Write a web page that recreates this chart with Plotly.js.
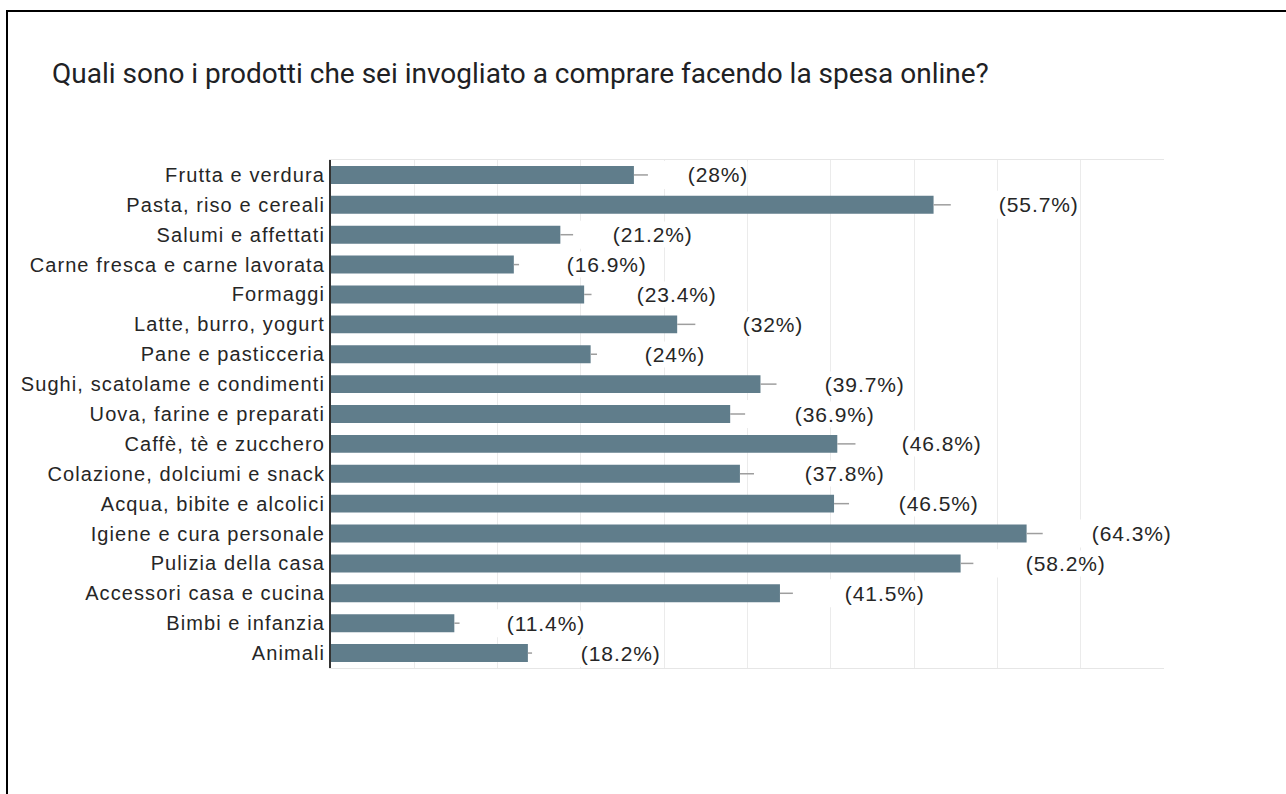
<!DOCTYPE html>
<html>
<head>
<meta charset="utf-8">
<script src="https://cdn.plot.ly/plotly-3.0.1.min.js"></script>
<style>
  html, body { margin: 0; padding: 0; background: #fff; }
  #wrap { position: relative; width: 1286px; height: 794px; overflow: hidden; }
  #chart { position: absolute; left: 0; top: 0; width: 1286px; height: 794px; }
  #frame { position: absolute; left: 6px; top: 10px; width: 1400px; height: 900px;
           border-top: 2px solid #000; border-left: 2px solid #000; pointer-events: none; }
  #chart .ytick text { letter-spacing: 1.1px; }
  #chart .annotation-text { letter-spacing: 0.9px; }
</style>
</head>
<body>
<div id="wrap">
  <div id="chart"></div>
  <div id="frame"></div>
</div>
<script>
const categories = [
  "Frutta e verdura",
  "Pasta, riso e cereali",
  "Salumi e affettati",
  "Carne fresca e carne lavorata",
  "Formaggi",
  "Latte, burro, yogurt",
  "Pane e pasticceria",
  "Sughi, scatolame e condimenti",
  "Uova, farine e preparati",
  "Caffè, tè e zucchero",
  "Colazione, dolciumi e snack",
  "Acqua, bibite e alcolici",
  "Igiene e cura personale",
  "Pulizia della casa",
  "Accessori casa e cucina",
  "Bimbi e infanzia",
  "Animali"
];
const percents = [28, 55.7, 21.2, 16.9, 23.4, 32, 24, 39.7, 36.9, 46.8, 37.8, 46.5, 64.3, 58.2, 41.5, 11.4, 18.2];
const errPlus  = [1.3, 1.6, 1.2, 0.5, 0.7, 1.7, 0.6, 1.5, 1.4, 1.7, 1.3, 1.4, 1.5, 1.2, 1.2, 0.5, 0.4];
const valueLabels = percents.map(p => "(" + p + "%)");

const W = 1286, H = 794;
const margin = {l: 331, r: 122, t: 160, b: 126, pad: 0};
const xMax = 77, xStep = 7.7;
const pxPerUnit = (W - margin.l - margin.r) / xMax;
const labelShiftPx = percents.map(p => p < 30 ? 54 : 66);

const trace = {
  type: "bar",
  orientation: "h",
  x: percents,
  y: categories,
  marker: {color: "#607d8b"},
  error_x: {type: "data", symmetric: false, array: errPlus, arrayminus: percents.map(() => 0),
            color: "#9e9e9e", thickness: 1.5, width: 0},
  hoverinfo: "none"
};

const annotations = percents.map((p, i) => ({
  x: p, y: categories[i], xref: "x", yref: "y",
  text: valueLabels[i], showarrow: false,
  xanchor: "left", yanchor: "middle", xshift: labelShiftPx[i],
  bgcolor: "#ffffff", borderpad: 1,
  font: {family: "Liberation Sans, Arial, sans-serif", size: 21, color: "#262626"}
}));

const shapes = percents.map((p, i) => ({
  type: "rect", xref: "x", yref: "y", layer: "above",
  x0: p + errPlus[i], x1: p + (labelShiftPx[i] + 2) / pxPerUnit,
  y0: i - 0.47, y1: i + 0.47,
  fillcolor: "#ffffff", line: {width: 0}
}));

const layout = {
  width: W, height: H,
  margin: margin,
  paper_bgcolor: "#ffffff", plot_bgcolor: "#ffffff",
  showlegend: false,
  bargap: 0.4,
  title: {
    text: "Quali sono i prodotti che sei invogliato a comprare facendo la spesa online?",
    xref: "container", yref: "container",
    x: 52 / W, xanchor: "left",
    y: 1 - 73 / H, yanchor: "middle",
    font: {family: "Roboto, sans-serif", size: 28, color: "#202124"}
  },
  xaxis: {
    range: [0, xMax], dtick: xStep, tick0: 0,
    showgrid: true, gridcolor: "#ebebeb", gridwidth: 1,
    showticklabels: false, zeroline: false,
    showline: true, linecolor: "#e6e6e6", linewidth: 1, mirror: true,
    fixedrange: true
  },
  yaxis: {
    type: "category", autorange: "reversed",
    showgrid: false, zeroline: false,
    showline: true, linecolor: "#333333", linewidth: 2,
    ticks: "", ticklabelstandoff: 0,
    tickfont: {family: "Liberation Sans, Arial, sans-serif", size: 20, color: "#262626"},
    fixedrange: true
  },
  annotations: annotations,
  shapes: shapes
};

Plotly.newPlot("chart", [trace], layout, {displayModeBar: false, staticPlot: true});
</script>
</body>
</html>
